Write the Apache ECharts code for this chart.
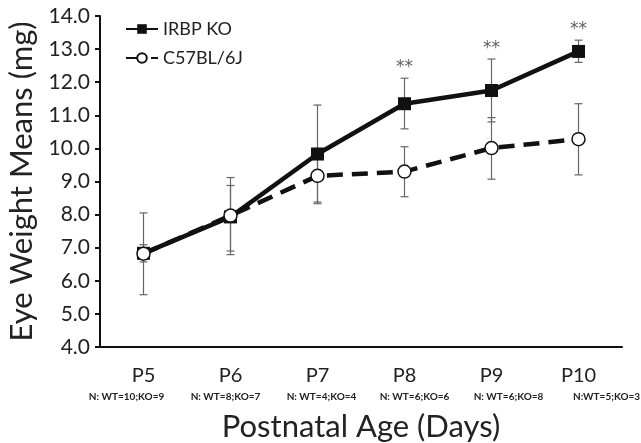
<!DOCTYPE html>
<html>
<head>
<meta charset="utf-8">
<script src="https://cdn.jsdelivr.net/npm/echarts@6/dist/echarts.min.js"></script>
<style>
  html, body { margin: 0; padding: 0; background: #fff; }
  #main { width: 641px; height: 443px; }
</style>
</head>
<body>
<div id="main"></div>
<script>
// data
var ages = ['P5', 'P6', 'P7', 'P8', 'P9', 'P10'];
var nLabels = ['N: WT=10;KO=9', 'N: WT=8;KO=7', 'N: WT=4;KO=4', 'N: WT=6;KO=6', 'N: WT=6;KO=8', 'N:WT=5;KO=3'];
var koMean = [6.83, 7.93, 9.83, 11.35, 11.75, 12.93];
var koLow  = [6.57, 6.90, 8.38, 10.59, 10.80, 12.60];
var koHigh = [7.09, 8.88, 11.31, 12.12, 12.70, 13.27];
var wtMean = [6.82, 7.97, 9.17, 9.30, 10.01, 10.28];
var wtLow  = [5.58, 6.79, 8.33, 8.54, 9.07, 9.20];
var wtHigh = [8.05, 9.12, 10.00, 10.05, 10.93, 11.35];
var sig = ['', '', '', '**', '**', '**'];

// horizontal nudges of the N labels (layout only)
var nShift = [-17, -5, 4, 10, 17, 28];

var font = 'Lato';

function errData(low, high) {
  return ages.map(function (a, i) { return [i, low[i], high[i]]; });
}

function errItem(params, api) {
  var x = api.value(0);
  var lo = api.coord([x, api.value(1)]);
  var hi = api.coord([x, api.value(2)]);
  var cap = 4;
  var st = { stroke: '#666', lineWidth: 1.2 };
  return {
    type: 'group',
    children: [
      { type: 'line', shape: { x1: lo[0], y1: lo[1], x2: hi[0], y2: hi[1] }, style: st },
      { type: 'line', shape: { x1: lo[0] - cap, y1: lo[1], x2: lo[0] + cap, y2: lo[1] }, style: st },
      { type: 'line', shape: { x1: hi[0] - cap, y1: hi[1], x2: hi[0] + cap, y2: hi[1] }, style: st }
    ]
  };
}

var chart = echarts.init(document.getElementById('main'));
chart.setOption({
  animation: false,
  grid: { left: 100, right: 19, top: 16, bottom: 96, outerBoundsMode: 'none' },
  legend: {
    orient: 'vertical',
    left: 120,
    top: 15,
    itemWidth: 32,
    itemHeight: 12,
    itemGap: 11,
    data: ['IRBP KO', 'C57BL/6J'],
    textStyle: { fontFamily: font, fontSize: 18, color: '#222' }
  },
  xAxis: {
    type: 'category',
    data: ages,
    name: 'Postnatal Age (Days)',
    nameLocation: 'middle',
    nameGap: 64,
    nameTextStyle: { fontFamily: font, fontSize: 31, color: '#222' },
    axisLine: { lineStyle: { color: '#111', width: 2 } },
    axisTick: { alignWithLabel: true, length: 5, lineStyle: { color: '#111', width: 2 } },
    axisLabel: {
      interval: 0,
      margin: 17,
      formatter: function (v, i) {
        return '{p|' + v + '}\n{n' + i + '|' + nLabels[i] + '}';
      },
      rich: (function () {
        var r = { p: { fontFamily: font, fontSize: 20, color: '#222', lineHeight: 24 } };
        nShift.forEach(function (s, i) {
          r['n' + i] = {
            fontFamily: font, fontSize: 10, fontWeight: 'bold', color: '#222', lineHeight: 17,
            padding: s >= 0 ? [0, 0, 0, 2 * s] : [0, -2 * s, 0, 0]
          };
        });
        return r;
      })()
    }
  },
  yAxis: {
    type: 'value',
    min: 4,
    max: 14,
    interval: 1,
    name: 'Eye Weight Means (mg)',
    nameLocation: 'middle',
    nameGap: 60,
    nameTextStyle: { fontFamily: font, fontSize: 31, color: '#222' },
    splitLine: { show: false },
    axisLine: { show: true, lineStyle: { color: '#111', width: 2 } },
    axisTick: { show: true, length: 5, lineStyle: { color: '#111', width: 2 } },
    axisLabel: {
      margin: 10,
      fontFamily: font, fontSize: 21, color: '#222',
      formatter: function (v) { return v.toFixed(1); }
    }
  },
  series: [
    {
      type: 'custom',
      name: 'koErr',
      renderItem: errItem,
      data: errData(koLow, koHigh),
      z: 1,
      silent: true
    },
    {
      type: 'custom',
      name: 'wtErr',
      renderItem: errItem,
      data: errData(wtLow, wtHigh),
      z: 1,
      silent: true
    },
    {
      name: 'C57BL/6J',
      type: 'line',
      data: wtMean,
      symbol: 'circle',
      symbolSize: 13,
      itemStyle: { color: '#fff', borderColor: '#111', borderWidth: 1.5 },
      lineStyle: { color: '#111', width: 4.5, type: [16, 9] },
      z: 3
    },
    {
      name: 'IRBP KO',
      type: 'line',
      data: koMean,
      symbol: 'rect',
      symbolSize: 13,
      itemStyle: { color: '#111' },
      lineStyle: { color: '#111', width: 4.5 },
      z: 2
    },
    {
      type: 'scatter',
      name: 'sig',
      data: ages.map(function (a, i) { return [i, koHigh[i]]; }),
      symbolSize: 0,
      silent: true,
      label: {
        show: true,
        position: 'top',
        distance: 2,
        formatter: function (p) { return sig[p.dataIndex]; },
        fontFamily: 'DejaVu Sans', fontSize: 17, color: '#333'
      }
    }
  ]
});
</script>
</body>
</html>
